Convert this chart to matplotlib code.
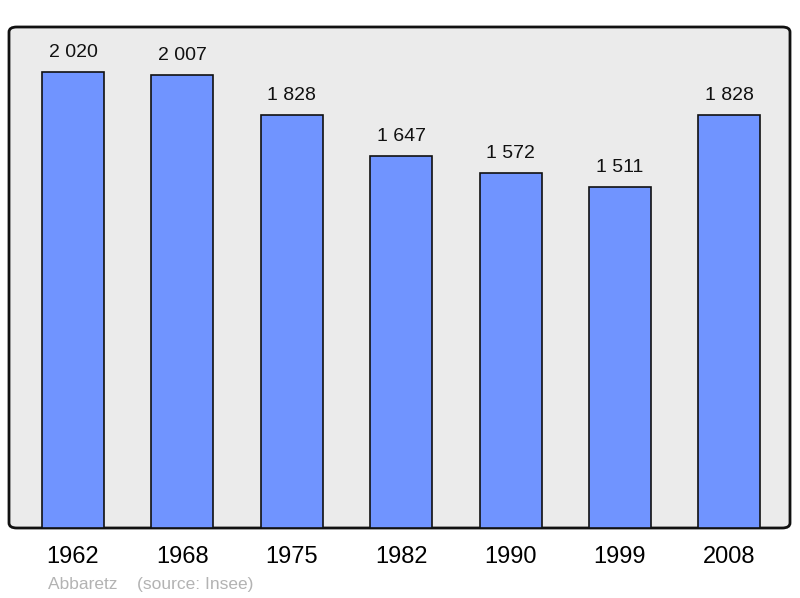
import matplotlib
matplotlib.use("Agg")
import matplotlib.pyplot as plt
from matplotlib.patches import FancyBboxPatch

years = ["1962", "1968", "1975", "1982", "1990", "1999", "2008"]
population = [2020, 2007, 1828, 1647, 1572, 1511, 1828]
labels = ["2 020", "2 007", "1 828", "1 647", "1 572", "1 511", "1 828"]

plt.rcParams["font.family"] = ["Liberation Sans", "DejaVu Sans"]

fig = plt.figure(figsize=(8, 5.98), dpi=100)
ax = fig.add_axes([9 / 800, 70 / 598, 781 / 800, 501 / 598])
ax.set_facecolor("none")

# rounded frame behind the bars
frame = FancyBboxPatch((0, 0), 1, 1,
                       boxstyle="round,pad=0,rounding_size=0.01",
                       transform=ax.transAxes, facecolor="#ebebeb",
                       edgecolor="#111111", linewidth=2, zorder=0,
                       clip_on=False)
ax.add_patch(frame)

x = list(range(len(years)))
bars = ax.bar(x, population, width=0.565, color="#7094ff",
              edgecolor="#111111", linewidth=1.2, zorder=2)

for xi, val, lab in zip(x, population, labels):
    ax.annotate(lab, (xi, val), xytext=(0, 8), textcoords="offset points",
                ha="center", va="bottom", fontsize=14, color="#111111")

ax.set_xlim(-0.585, 6.554)
ax.set_ylim(0, 2218)
ax.set_xticks(x)
ax.set_xticklabels(years, fontsize=17)
ax.tick_params(axis="x", length=0, pad=13)
ax.set_yticks([])
for s in ax.spines.values():
    s.set_visible(False)

fig.text(48 / 800, 1 - 584 / 598, "Abbaretz    (source: Insee)", fontsize=12.5,
         color="#b3b3b3", ha="left", va="center")

fig.savefig("out.png", dpi=100)
